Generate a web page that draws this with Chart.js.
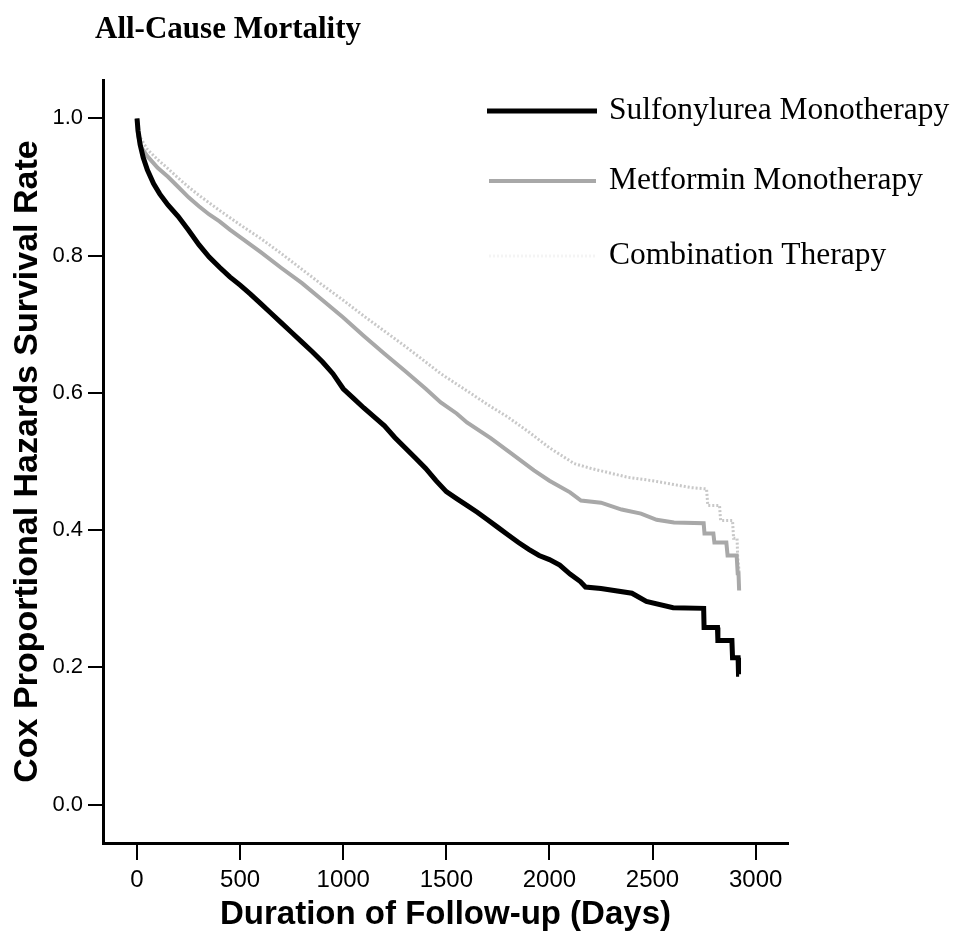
<!DOCTYPE html>
<html>
<head>
<meta charset="utf-8">
<script src="https://cdn.jsdelivr.net/npm/chart.js@4.4.1/dist/chart.umd.min.js"></script>
<style>
  html, body { margin: 0; padding: 0; background: #fff; }
  #wrap { width: 960px; height: 938px; }
</style>
</head>
<body>
<div id="wrap"><canvas id="survChart" width="960" height="938"></canvas></div>
<script>
// 読み取り値（日数, 生存率）。終盤の段差は同じ日数の点を並べて表す
const suDays = [0, 5, 15, 30, 50, 80, 110, 150, 200, 250, 300, 350, 400, 450, 500, 550, 600, 650, 700, 750, 800, 850, 900, 950, 1000, 1050, 1100, 1150, 1200, 1250, 1300, 1350, 1400, 1450, 1500, 1550, 1600, 1650, 1700, 1750, 1800, 1850, 1900, 1950, 2000, 2050, 2100, 2150, 2175, 2250, 2400, 2470, 2600, 2748, 2750, 2815, 2817, 2885, 2888, 2915, 2917, 2920];
const suSurv = [1.0, 0.982, 0.962, 0.943, 0.925, 0.905, 0.89, 0.874, 0.857, 0.837, 0.816, 0.798, 0.783, 0.769, 0.757, 0.744, 0.73, 0.716, 0.702, 0.688, 0.674, 0.66, 0.645, 0.628, 0.606, 0.592, 0.578, 0.565, 0.552, 0.535, 0.52, 0.505, 0.49, 0.472, 0.456, 0.446, 0.436, 0.426, 0.415, 0.404, 0.393, 0.382, 0.372, 0.363, 0.357, 0.349, 0.336, 0.325, 0.317, 0.315, 0.308, 0.296, 0.287, 0.286, 0.258, 0.258, 0.239, 0.239, 0.214, 0.214, 0.19, 0.19];

const metDays = [0, 5, 20, 50, 100, 150, 200, 250, 300, 350, 400, 450, 500, 600, 700, 800, 900, 1000, 1100, 1200, 1300, 1400, 1473, 1550, 1600, 1715, 1800, 1925, 2000, 2100, 2153, 2250, 2350, 2444, 2520, 2604, 2748, 2752, 2795, 2800, 2858, 2864, 2908, 2913, 2917, 2920];
const metSurv = [1.0, 0.975, 0.958, 0.945, 0.928, 0.915, 0.9, 0.885, 0.872, 0.86, 0.85, 0.838, 0.827, 0.805, 0.782, 0.76, 0.735, 0.71, 0.683, 0.657, 0.632, 0.606, 0.586, 0.57, 0.557, 0.534, 0.515, 0.487, 0.472, 0.455, 0.443, 0.44, 0.43, 0.424, 0.415, 0.411, 0.41, 0.395, 0.395, 0.382, 0.382, 0.363, 0.363, 0.337, 0.337, 0.312];

const comboDays = [0, 10, 50, 100, 150, 200, 250, 300, 400, 500, 600, 700, 800, 900, 1000, 1100, 1200, 1300, 1400, 1473, 1600, 1700, 1797, 1900, 2000, 2120, 2200, 2380, 2500, 2686, 2762, 2768, 2825, 2830, 2888, 2893, 2910, 2913, 2920];
const comboSurv = [1.0, 0.975, 0.955, 0.94, 0.927, 0.913, 0.9, 0.888, 0.866, 0.845, 0.825, 0.803, 0.78, 0.757, 0.735, 0.712, 0.69, 0.668, 0.645, 0.628, 0.603, 0.583, 0.565, 0.543, 0.52, 0.497, 0.49, 0.477, 0.472, 0.462, 0.46, 0.436, 0.436, 0.414, 0.414, 0.388, 0.388, 0.36, 0.34];

const seriesLabels = ['Sulfonylurea Monotherapy', 'Metformin Monotherapy', 'Combination Therapy'];
const xTicks = [0, 500, 1000, 1500, 2000, 2500, 3000];
const yTicks = [0.0, 0.2, 0.4, 0.6, 0.8, 1.0];

function toPoints(days, surv) {
  return days.map((d, i) => ({ x: d, y: surv[i] }));
}

// 凡例とタイトルはキャンバスに直接描く
const overlayPlugin = {
  id: 'overlay',
  afterDraw(chart) {
    const ctx = chart.ctx;
    ctx.save();
    ctx.fillStyle = '#000';
    ctx.textBaseline = 'middle';
    ctx.textAlign = 'left';
    ctx.font = 'bold 31px "Liberation Serif", "Times New Roman", serif';
    ctx.fillText('All-Cause Mortality', 95, 30);

    const rows = [
      { y: 111, x0: 487, x1: 597 },
      { y: 181, x0: 489, x1: 596 },
      { y: 256, x0: 489, x1: 596 }
    ];
    chart.data.datasets.forEach((ds, i) => {
      const r = rows[i];
      ctx.beginPath();
      ctx.strokeStyle = i === 2 ? 'rgba(220,220,220,0.3)' : ds.borderColor;
      ctx.lineWidth = ds.borderWidth;
      ctx.setLineDash(ds.borderDash || []);
      ctx.moveTo(r.x0, r.y);
      ctx.lineTo(r.x1, r.y);
      ctx.stroke();
      ctx.setLineDash([]);
      ctx.font = '31.5px "Liberation Serif", "Times New Roman", serif';
      ctx.fillStyle = '#000';
      ctx.fillText(ds.label, 609, r.y);
    });
    ctx.restore();
  }
};

const ctx = document.getElementById('survChart').getContext('2d');
new Chart(ctx, {
  type: 'line',
  data: {
    datasets: [
      {
        label: seriesLabels[0],
        data: toPoints(suDays, suSurv),
        borderColor: '#000',
        borderWidth: 5,
        pointRadius: 0,
        tension: 0,
        order: 1
      },
      {
        label: seriesLabels[1],
        data: toPoints(metDays, metSurv),
        borderColor: '#a8a8a8',
        borderWidth: 4,
        pointRadius: 0,
        tension: 0,
        order: 2
      },
      {
        label: seriesLabels[2],
        data: toPoints(comboDays, comboSurv),
        borderColor: '#c8c8c8',
        borderWidth: 3,
        borderDash: [2, 2],
        pointRadius: 0,
        tension: 0,
        order: 3
      }
    ]
  },
  options: {
    responsive: false,
    animation: false,
    layout: { padding: { top: 80, right: 172, left: 0, bottom: 0 } },
    plugins: {
      legend: { display: false },
      tooltip: { enabled: false },
      title: { display: false }
    },
    scales: {
      x: {
        type: 'linear',
        min: -165,
        max: 3157,
        afterBuildTicks: (scale) => { scale.ticks = xTicks.map(v => ({ value: v })); },
        afterFit: (scale) => { scale.height = 95; },
        border: { display: true, color: '#000', width: 3 },
        grid: { drawOnChartArea: false, drawTicks: true, tickLength: 17, color: '#000', lineWidth: 2 },
        ticks: {
          color: '#000',
          padding: 6,
          maxRotation: 0,
          font: { family: '"Liberation Sans", Arial, sans-serif', size: 24 },
          callback: (v) => String(v)
        },
        title: {
          display: true,
          text: 'Duration of Follow-up (Days)',
          color: '#000',
          padding: { top: 0, bottom: 3 },
          font: { family: '"Liberation Sans", Arial, sans-serif', size: 33, weight: 'bold' }
        }
      },
      y: {
        type: 'linear',
        min: -0.056,
        max: 1.056,
        afterBuildTicks: (scale) => { scale.ticks = yTicks.map(v => ({ value: v })); },
        afterFit: (scale) => { scale.width = 103; },
        border: { display: true, color: '#000', width: 3 },
        grid: { drawOnChartArea: false, drawTicks: true, tickLength: 15, color: '#000', lineWidth: 2 },
        ticks: {
          color: '#000',
          padding: 5,
          font: { family: '"Liberation Sans", Arial, sans-serif', size: 22 },
          callback: (v) => v.toFixed(1)
        },
        title: {
          display: true,
          text: 'Cox Proportional Hazards Survival Rate',
          color: '#000',
          padding: { top: 7, bottom: 0 },
          font: { family: '"Liberation Sans", Arial, sans-serif', size: 34, weight: 'bold' }
        }
      }
    }
  },
  plugins: [overlayPlugin]
});
</script>
</body>
</html>
